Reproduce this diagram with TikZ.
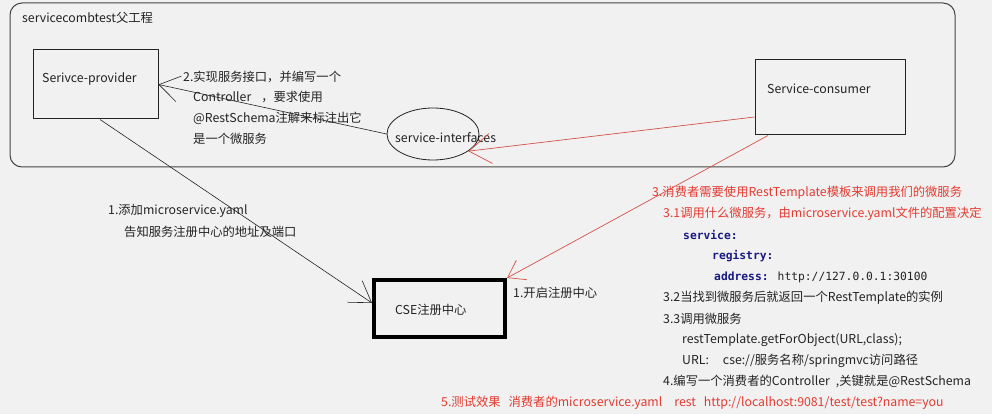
\documentclass[tikz,border=0pt]{standalone}
\usepackage{fontspec}
\setmainfont{Noto Sans CJK SC}
\newfontfamily\codefont{DejaVu Sans Mono}
\usetikzlibrary{arrows.meta,shapes.geometric}
\definecolor{bg}{RGB}{241,241,241}
\definecolor{txtred}{RGB}{228,58,48}
\definecolor{linered}{RGB}{212,82,72}
\definecolor{kwblue}{RGB}{25,25,130}
\definecolor{ink}{RGB}{35,35,35}
\begin{document}
\begin{tikzpicture}[x=1pt,y=-1pt,
  every node/.style={font=\fontsize{12.3}{14}\selectfont, text=ink, inner sep=0pt},
  lbl/.style={anchor=west},
  redlbl/.style={anchor=west, text=txtred},
  code/.style={anchor=west, font=\codefont\fontsize{11.3}{13}\selectfont},
  box/.style={draw=ink, line width=1pt, rectangle},
  conn/.style={draw=ink, line width=0.6pt, -{Straight Barb[length=20pt,width=26pt,line width=0.6pt]}},
  redconn/.style={draw=linered, line width=0.7pt, -{Straight Barb[length=22pt,width=30pt,line width=0.7pt]}}
]
\fill[bg] (0,0) rectangle (992,414);
\useasboundingbox (0,0) rectangle (992,414);

% outer parent project frame
\draw[draw=ink!85, line width=1pt, rounded corners=12pt] (10,3) rectangle (955,167);
\node[lbl] (title) at (22,18) {servicecombtest父工程};

% boxes
\node[box, minimum width=125pt, minimum height=69pt] (provider) at (95.5,84.5) {};
\node[lbl] (providertxt) at (42,79) {Serivce-provider};

\node[box, minimum width=150pt, minimum height=75pt] (consumer) at (830,97.5) {};
\node[lbl] (consumertxt) at (767,89) {Service-consumer};

\node[draw=ink, line width=0.8pt, ellipse, minimum width=92pt, minimum height=52pt] (iface) at (433,134) {};
\node[lbl] (ifacetxt) at (395,138) {service-interfaces};

\node[draw=black, line width=3.6pt, rectangle, minimum width=131.4pt, minimum height=57.4pt] (cse) at (439.5,308.5) {};
\node[lbl] (csetxt) at (395,310) {CSE注册中心};

% connectors
\draw[conn] ([xshift=4.5pt]provider.south) -- ([yshift=5.5pt]cse.west);
\draw[conn] (iface.west) -- (provider.east);
\draw[redconn] ([yshift=-19.5pt]consumer.west) -- (iface.-26);
\draw[draw=linered, line width=0.7pt, -{Straight Barb[length=16pt,width=22pt,line width=0.7pt]}] ([xshift=-62pt]consumer.south) -- (cse.north east);

% step 2 text
\node[lbl] (s2a) at (183,77) {2.实现服务接口，并编写一个};
\node[lbl] (s2b) at (193,97) {Controller\hspace{10pt}，要求使用};
\node[lbl] (s2c) at (193,118) {@RestSchema注解来标注出它};
\node[lbl] (s2d) at (193,139) {是一个微服务};

% step 1 text
\node[lbl] (s1a) at (108,211) {1.添加microservice.yaml};
\node[lbl] (s1b) at (124,232) {告知服务注册中心的地址及端口};
\node[lbl] (s1c) at (513,293) {1.开启注册中心};

% step 3 text
\node[redlbl] (s3) at (652,193) {3.消费者需要使用RestTemplate模板来调用我们的微服务};
\node[redlbl] (s31) at (663,214) {3.1调用什么微服务，由microservice.yaml文件的配置决定};
\node[code] (c1) at (683,235) {\bfseries\color{kwblue}service:};
\node[code] (c2) at (712,256) {\bfseries\color{kwblue}registry:};
\node[code] (c3) at (714,277) {{\bfseries\color{kwblue}address:} http://127.0.0.1:30100};
\node[lbl] (s32) at (663,298) {3.2当找到微服务后就返回一个RestTemplate的实例};
\node[lbl] (s33) at (663,319) {3.3调用微服务};
\node[lbl] (s33a) at (682,340) {restTemplate.getForObject(URL,class);};
\node[lbl] (s33b) at (682,361) {URL:\hspace{14pt}cse://服务名称/springmvc访问路径};
\node[lbl] (s4) at (663,381) {4.编写一个消费者的Controller\hspace{6pt},关键就是@RestSchema};
\node[redlbl] (s5) at (441,403) {5.测试效果\hspace{8pt}消费者的microservice.yaml\hspace{12pt}rest\hspace{8pt}http://localhost:9081/test/test?name=you};
\end{tikzpicture}
\end{document}
